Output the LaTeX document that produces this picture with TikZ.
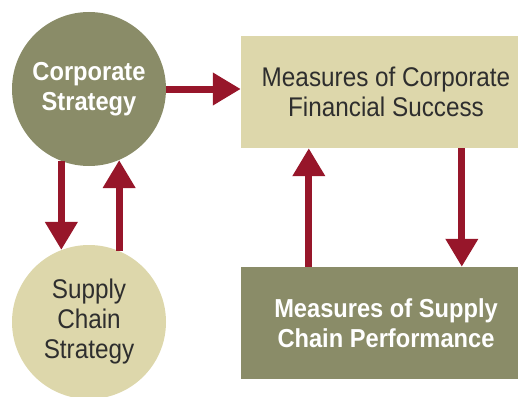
\documentclass[tikz,border=0pt]{standalone}
\usepackage{fontspec}
\usetikzlibrary{arrows.meta,positioning}
\newfontfamily\regfont[FakeStretch=0.9]{Liberation Sans}
\newfontfamily\boldfont[FakeStretch=0.91]{Liberation Sans}

\definecolor{olive}{HTML}{8A8C68}
\definecolor{beige}{HTML}{DDD7AB}
\definecolor{arrowred}{HTML}{97162A}
\definecolor{darktext}{HTML}{2E2E2E}

\begin{document}
\begin{tikzpicture}[
        x=1pt, y=-1pt,
        circlenode/.style={circle, minimum size=154pt, inner sep=0pt, align=center},
        boxnode/.style={rectangle, minimum width=290pt, minimum height=112pt, inner sep=0pt, align=center},
        darklabel/.style={font=\boldfont\bfseries\fontsize{26}{30}\selectfont, text=white},
        lightlabel/.style={font=\regfont\fontsize{27}{30}\selectfont, text=darktext},
        flow/.style={draw=arrowred, line width=7pt, -{Triangle[width=31pt,length=28pt]}}
        ]
        \useasboundingbox (0,0) rectangle (518,396);
        \clip (0,0) rectangle (518,396);

        % the two strategies
        \node [circlenode, fill=olive, darklabel] (corp) at (89,89) {Corporate\\Strategy};
        \node [circlenode, fill=beige, lightlabel] (supply) at (89,322) {Supply\\Chain\\Strategy};

        % the two measures
        \node [boxnode, fill=beige, lightlabel] (finance) at (386,92) {Measures of Corporate\\Financial Success};
        \node [boxnode, fill=olive, darklabel] (perf) at (386,323) {Measures of Supply\\Chain Performance};

        \draw[flow] (corp.east) -- (corp.east -| finance.west);
        \draw[flow] (corp.-111.3) -- (supply.111.3);
        \draw[flow] (supply.67.9) -- (corp.-67.9);
        \draw[flow] ([xshift=68pt]perf.north west) -- ([xshift=68pt]finance.south west);
        \draw[flow] ([xshift=221pt]finance.south west) -- ([xshift=221pt]perf.north west);
\end{tikzpicture}
\end{document}
